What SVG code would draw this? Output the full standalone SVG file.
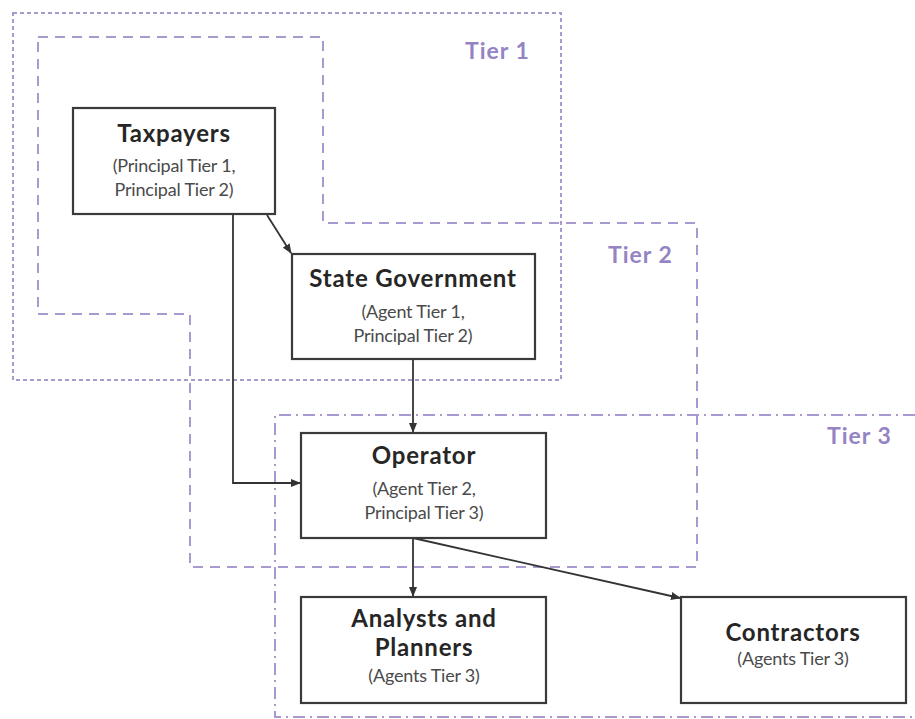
<svg xmlns="http://www.w3.org/2000/svg" width="915" height="719" viewBox="0 0 915 719">
<defs>
<marker id="ah" markerWidth="10" markerHeight="8" refX="9" refY="4" orient="auto" markerUnits="userSpaceOnUse">
<path d="M0,0 L10,4 L0,8 z" fill="#333"/>
</marker>
<style>
.tier{fill:none;stroke:#a89ad0;stroke-width:2}
.t1{stroke-dasharray:4 3}
.t2{stroke-dasharray:10 7}
.t3{stroke-dasharray:12 5 2 5}
.tl{font-family:Lato,"Liberation Sans",sans-serif;font-weight:bold;font-size:23px;fill:#9484c4;letter-spacing:1px}
.box{fill:#fff;stroke:#3a3a3a;stroke-width:2.2}
.ti{font-family:Lato,"Liberation Sans",sans-serif;font-weight:bold;font-size:24px;fill:#262626;text-anchor:middle;letter-spacing:0.8px}
.su{font-family:Lato,"Liberation Sans",sans-serif;font-size:18px;fill:#4a4a4a;text-anchor:middle;letter-spacing:-0.2px}
.cn{fill:none;stroke:#333;stroke-width:1.8}
</style>
</defs>
<rect width="915" height="719" fill="#fff"/>
<g id="tiers">
<rect class="tier t1" x="13" y="13" width="548" height="367"/>
<path class="tier t2" d="M38,37 H323 V223 H697 V567 H190 V314 H38 Z"/>
<path class="tier t3" d="M915,415 H275 V717 H915"/>
<text class="tl" x="465" y="59">Tier 1</text>
<text class="tl" x="608" y="263">Tier 2</text>
<text class="tl" x="827" y="444">Tier 3</text>
</g>
<g id="connectors">
<line class="cn" x1="267" y1="215" x2="291" y2="253" marker-end="url(#ah)"/>
<polyline class="cn" points="233,215 233,483 300,483" marker-end="url(#ah)"/>
<line class="cn" x1="413" y1="359" x2="413" y2="432" marker-end="url(#ah)"/>
<line class="cn" x1="413" y1="538" x2="413" y2="596" marker-end="url(#ah)"/>
<line class="cn" x1="413" y1="538" x2="680" y2="598" marker-end="url(#ah)"/>
</g>
<g id="taxpayers">
<rect class="box" x="73" y="108" width="202" height="106"/>
<text class="ti" x="174" y="142">Taxpayers</text>
<text class="su" x="174" y="172">(Principal Tier 1,</text>
<text class="su" x="174" y="196">Principal Tier 2)</text>
</g>
<g id="state-government">
<rect class="box" x="292" y="254" width="243" height="105"/>
<text class="ti" x="413" y="287">State Government</text>
<text class="su" x="413" y="318">(Agent Tier 1,</text>
<text class="su" x="413" y="342">Principal Tier 2)</text>
</g>
<g id="operator">
<rect class="box" x="301" y="433" width="245" height="105"/>
<text class="ti" x="424" y="464">Operator</text>
<text class="su" x="424" y="495">(Agent Tier 2,</text>
<text class="su" x="424" y="519">Principal Tier 3)</text>
</g>
<g id="analysts">
<rect class="box" x="301" y="597" width="245" height="106"/>
<text class="ti" x="424" y="627">Analysts and</text>
<text class="ti" x="424" y="656">Planners</text>
<text class="su" x="424" y="682">(Agents Tier 3)</text>
</g>
<g id="contractors">
<rect class="box" x="681" y="597" width="225" height="106"/>
<text class="ti" x="793" y="641">Contractors</text>
<text class="su" x="793" y="665">(Agents Tier 3)</text>
</g>
</svg>
